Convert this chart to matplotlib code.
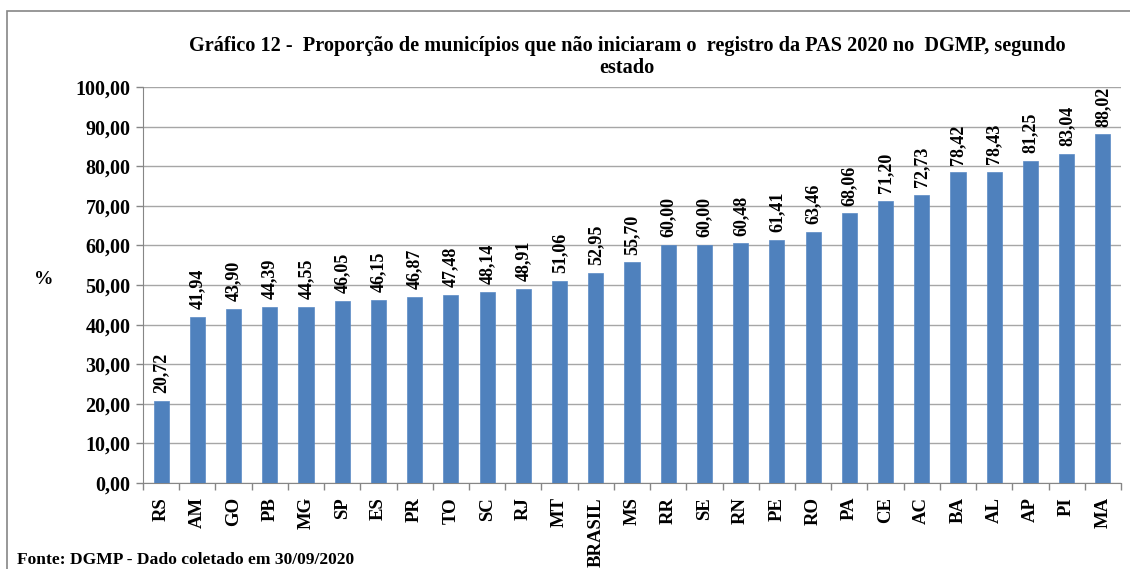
import matplotlib
matplotlib.use('Agg')
import matplotlib.pyplot as plt
from matplotlib.patches import Rectangle
from matplotlib.ticker import FuncFormatter, MultipleLocator, FixedLocator
import numpy as np

plt.rcParams['font.family'] = ['Liberation Serif', 'DejaVu Serif']
plt.rcParams['font.weight'] = 'bold'

# Dados
estados = ['RS', 'AM', 'GO', 'PB', 'MG', 'SP', 'ES', 'PR', 'TO', 'SC', 'RJ', 'MT',
           'BRASIL', 'MS', 'RR', 'SE', 'RN', 'PE', 'RO', 'PA', 'CE', 'AC', 'BA',
           'AL', 'AP', 'PI', 'MA']
proporcao = [20.72, 41.94, 43.90, 44.39, 44.55, 46.05, 46.15, 46.87, 47.48, 48.14,
             48.91, 51.06, 52.95, 55.70, 60.00, 60.00, 60.48, 61.41, 63.46, 68.06,
             71.20, 72.73, 78.42, 78.43, 81.25, 83.04, 88.02]

titulo = ('Gráfico 12 -  Proporção de municípios que não iniciaram o  registro da PAS 2020 no  DGMP, segundo\n'
          'estado')
fonte = 'Fonte: DGMP - Dado coletado em 30/09/2020'

def br(v, pos=None):
    return f'{v:.2f}'.replace('.', ',')

fig = plt.figure(figsize=(11.3, 5.69), dpi=100)
ax = fig.add_axes([143/1130, 1 - 483/569, (1121 - 143)/1130, (483 - 87)/569])

# moldura do gráfico (estilo Excel)
fig.patches.append(Rectangle((7/1130, -0.1), 1.2, 1 - 11/569 + 0.1,
                             transform=fig.transFigure, fill=False,
                             edgecolor='#868686', linewidth=1.2))

x = np.arange(len(estados))
ax.bar(x, proporcao, width=0.42, color='#4F81BD', edgecolor='#5A8AC6',
       linewidth=0.5, zorder=3)

for xi, v in zip(x, proporcao):
    ax.text(xi, v + 2.0, br(v), rotation=90, ha='center', va='bottom',
            fontsize=13, fontweight='bold', color='black')

ax.set_xlim(-0.5, len(estados) - 0.5)
ax.set_ylim(0, 100)
ax.yaxis.set_major_locator(MultipleLocator(10))
ax.yaxis.set_major_formatter(FuncFormatter(br))
ax.grid(axis='y', color='#A6A6A6', linewidth=1.0, zorder=0)

ax.set_xticks(x)
ax.set_xticklabels(estados, rotation=90, fontsize=13.5, fontweight='bold')
ax.tick_params(axis='x', which='major', length=0, pad=10)
ax.xaxis.set_minor_locator(FixedLocator(np.arange(-0.5, len(estados), 1)))
ax.tick_params(axis='x', which='minor', length=5, color='#868686', width=1)
ax.tick_params(axis='y', length=5, color='#868686', width=1, labelsize=14.5, pad=4)
for lbl in ax.get_yticklabels():
    lbl.set_fontweight('bold')

for s in ['top', 'right']:
    ax.spines[s].set_visible(False)
ax.spines['left'].set_color('#868686')
ax.spines['bottom'].set_color('#868686')

fig.text(44/1130, 1 - 280/569, '%', ha='center', va='center', fontsize=14,
         fontweight='bold')
fig.text(627/1130, 1 - 57/569, titulo, ha='center', va='center', fontsize=14.6,
         fontweight='bold', linespacing=1.15)
fig.text(17/1130, 1 - 560/569, fonte, ha='left', va='center', fontsize=12.6,
         fontweight='bold')

fig.savefig('out.png', dpi=100)
